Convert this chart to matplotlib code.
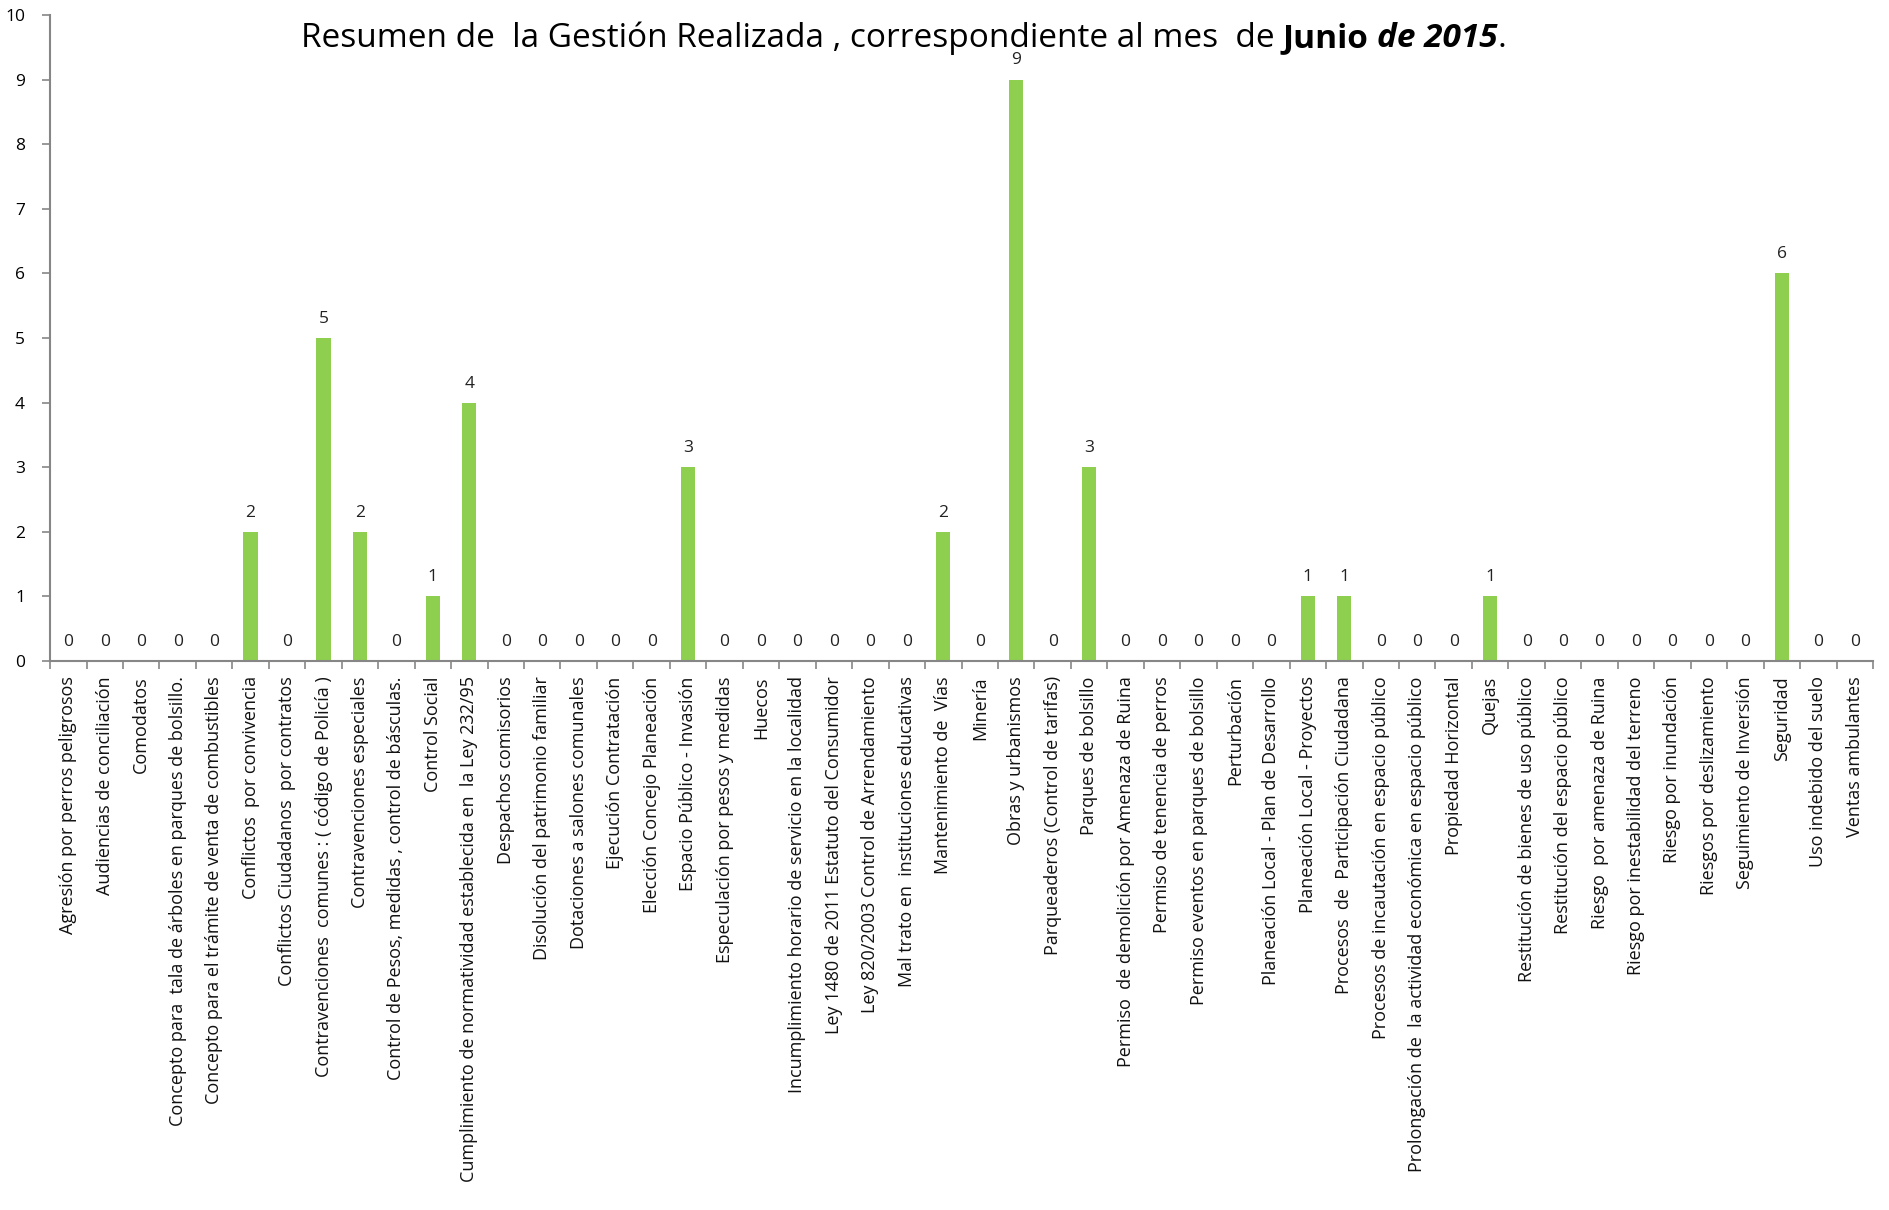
import matplotlib.pyplot as plt
from matplotlib.ticker import FixedLocator

categorias = [
    "Agresión por perros peligrosos",
    "Audiencias de conciliación",
    "Comodatos",
    "Concepto para  tala de árboles en parques de bolsillo.",
    "Concepto para el trámite de venta de combustibles",
    "Conflictos  por convivencia",
    "Conflictos Ciudadanos  por contratos",
    "Contravenciones  comunes : ( código de Policía )",
    "Contravenciones especiales",
    "Control de Pesos, medidas , control de básculas.",
    "Control Social",
    "Cumplimiento de normatividad establecida en  la Ley 232/95",
    "Despachos comisorios",
    "Disolución del patrimonio familiar",
    "Dotaciones a salones comunales",
    "Ejecución Contratación",
    "Elección Concejo Planeación",
    "Espacio Público - Invasión",
    "Especulación por pesos y medidas",
    "Huecos",
    "Incumplimiento horario de servicio en la localidad",
    "Ley 1480 de 2011 Estatuto del Consumidor",
    "Ley 820/2003 Control de Arrendamiento",
    "Mal trato en  instituciones educativas",
    "Mantenimiento de  Vías",
    "Minería",
    "Obras y urbanismos",
    "Parqueaderos (Control de tarifas)",
    "Parques de bolsillo",
    "Permiso  de demolición por Amenaza de Ruina",
    "Permiso de tenencia de perros",
    "Permiso eventos en parques de bolsillo",
    "Perturbación",
    "Planeación Local - Plan de Desarrollo",
    "Planeación Local - Proyectos",
    "Procesos  de  Participación Ciudadana",
    "Procesos de incautación en espacio público",
    "Prolongación de  la actividad económica en espacio público",
    "Propiedad Horizontal",
    "Quejas",
    "Restitución de bienes de uso público",
    "Restitución del espacio público",
    "Riesgo  por amenaza de Ruina",
    "Riesgo por inestabilidad del terreno",
    "Riesgo por inundación",
    "Riesgos por deslizamiento",
    "Seguimiento de Inversión",
    "Seguridad",
    "Uso indebido del suelo",
    "Ventas ambulantes",
]
valores = [0, 0, 0, 0, 0, 2, 0, 5, 2, 0, 1, 4, 0, 0, 0, 0, 0, 3, 0, 0,
           0, 0, 0, 0, 2, 0, 9, 0, 3, 0, 0, 0, 0, 0, 1, 1, 0, 0, 0, 1,
           0, 0, 0, 0, 0, 0, 0, 6, 0, 0]

plt.rcParams['font.family'] = ['Open Sans', 'DejaVu Sans']
gris = '#868686'

fig = plt.figure(figsize=(18.9, 12.1), dpi=100)
ax = fig.add_axes([0.0265, 0.4537, 0.9645, 0.5339])

x = list(range(len(categorias)))
bars = ax.bar(x, valores, width=0.39, color='#8fcf4f')
for xi, v in zip(x, valores):
    ax.annotate(str(v), (xi, v), xytext=(0, 8), textcoords='offset points',
                ha='center', va='bottom', fontsize=12.5, color='#222222')

ax.set_xlim(-0.5, len(categorias) - 0.5)
ax.set_ylim(0, 10)
ax.set_yticks(range(0, 11))
ax.set_xticks(x)
ax.set_xticklabels(categorias, rotation=90, fontsize=13, color='#111111')
ax.xaxis.set_minor_locator(FixedLocator([i - 0.5 for i in range(len(categorias) + 1)]))
ax.tick_params(axis='x', which='major', length=0, pad=11)
ax.tick_params(axis='x', which='minor', length=6, color=gris, width=1.2)
ax.tick_params(axis='y', length=6, color=gris, width=1.2, labelsize=12.5, pad=12)
for s in ('top', 'right'):
    ax.spines[s].set_visible(False)
for s in ('left', 'bottom'):
    ax.spines[s].set_color(gris)
    ax.spines[s].set_linewidth(1.5)

# titulo con partes en negrita / cursiva
t1 = fig.text(0.159, 0.968, "Resumen de  la Gestión Realizada , correspondiente al mes  de ",
              fontsize=24, va='center', ha='left')
t2 = ax.annotate("Junio ", xy=(1, 0), xycoords=t1, va='bottom', ha='left',
                 fontsize=24, fontweight='bold')
t3 = ax.annotate("de 2015", xy=(1, 0), xycoords=t2, va='bottom', ha='left',
                 fontsize=24, fontweight='bold', fontstyle='italic')
ax.annotate(".", xy=(1, 0), xycoords=t3, va='bottom', ha='left', fontsize=24)

fig.savefig('out.png', dpi=100)
